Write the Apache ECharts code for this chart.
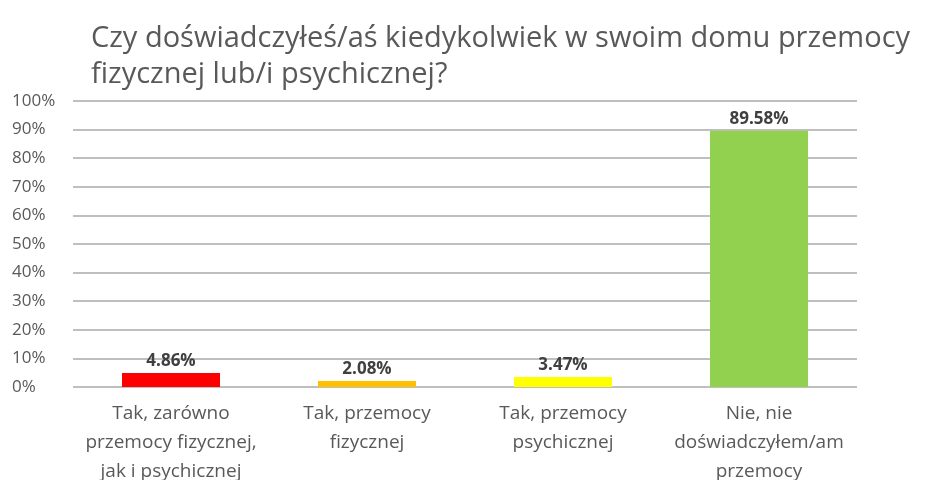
<!DOCTYPE html>
<html>
<head>
<meta charset="utf-8">
<script src="https://cdn.jsdelivr.net/npm/echarts@6/dist/echarts.min.js"></script>
<style>
  html, body { margin: 0; padding: 0; background: #fff; }
  #chart { width: 930px; height: 480px; }
</style>
</head>
<body>
<div id="chart"></div>
<script>
// dane z wykresu
const titleText = 'Czy doświadczyłeś/aś kiedykolwiek w swoim domu przemocy\nfizycznej lub/i psychicznej?'
const categories = [
  'Tak, zarówno\nprzemocy fizycznej,\njak i psychicznej',
  'Tak, przemocy\nfizycznej',
  'Tak, przemocy\npsychicznej',
  'Nie, nie\ndoświadczyłem/am\nprzemocy'
]
const values = [4.86, 2.08, 3.47, 89.58]
const barColors = ['#ff0000', '#ffc000', '#ffff00', '#92d050']

const font = '"Open Sans", sans-serif'
const myChart = echarts.init(document.getElementById('chart'))

const option = {
  animation: false,
  title: {
    text: titleText,
    left: 86,
    top: 16,
    textStyle: {
      fontFamily: font,
      fontSize: 29,
      fontWeight: 'normal',
      color: '#595959',
      lineHeight: 36
    }
  },
  grid: {
    left: 73,
    right: 73,
    top: 101,
    bottom: 93,
    outerBoundsMode: 'none'
  },
  xAxis: {
    type: 'category',
    data: categories,
    axisLine: { show: false },
    axisTick: { show: false },
    axisLabel: {
      interval: 0,
      margin: 12,
      fontFamily: font,
      fontSize: 19,
      lineHeight: 29,
      color: '#595959'
    }
  },
  yAxis: {
    type: 'value',
    min: 0,
    max: 100,
    interval: 10,
    axisLine: { show: false },
    axisTick: { show: false },
    axisLabel: {
      align: 'left',
      margin: 61,
      fontFamily: font,
      fontSize: 17,
      color: '#595959',
      formatter: '{value}%'
    },
    splitLine: {
      lineStyle: { color: '#bfbfbf', width: 2 }
    }
  },
  series: [{
    type: 'bar',
    barWidth: '50%',
    data: values.map((v, i) => ({ value: v, itemStyle: { color: barColors[i] } })),
    label: {
      show: true,
      position: 'top',
      distance: 3,
      fontFamily: font,
      fontSize: 17,
      fontWeight: 'bold',
      color: '#404040',
      formatter: p => p.value.toFixed(2) + '%'
    }
  }]
}

myChart.setOption(option)
window.addEventListener('resize', () => { myChart.resize() })
</script>
</body>
</html>
